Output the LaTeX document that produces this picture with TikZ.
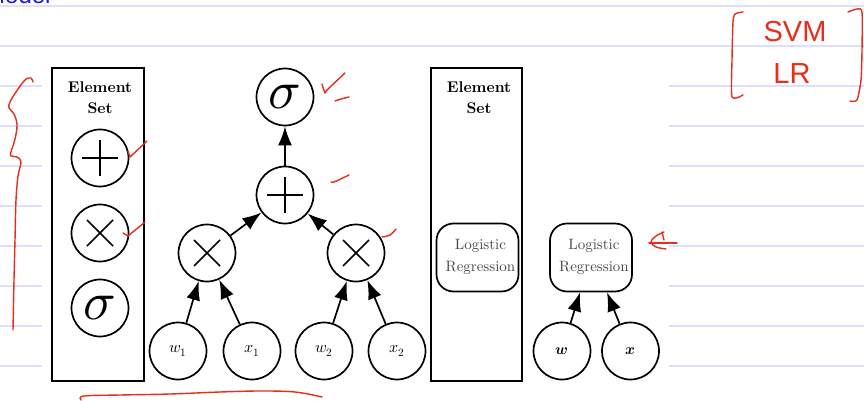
\documentclass[tikz,border=0pt]{standalone}
\usepackage{unicode-math}
\setmainfont{lmroman10}[Extension=.otf, UprightFont=*-regular, BoldFont=*-bold, ItalicFont=*-italic, BoldItalicFont=*-bolditalic]
\setmathfont{latinmodern-math.otf}
\usetikzlibrary{arrows.meta}
\newfontfamily\handfont{Liberation Sans}
\newfontfamily\headfont{Liberation Sans}
\definecolor{inkred}{RGB}{232,46,26}
\definecolor{rulecol}{RGB}{221,223,252}
\definecolor{headblue}{RGB}{24,24,232}
\definecolor{lrgray}{RGB}{72,72,72}
\begin{document}
\begin{tikzpicture}[x=1pt,y=-1pt,
  rule/.style={draw=rulecol, line width=1.4pt},
  ink/.style={draw=inkred, line width=1.4pt, line cap=round, line join=round},
  handtext/.style={text=inkred, font=\handfont\fontsize{29}{29}\selectfont, inner sep=0pt},
  circ/.style={circle, draw, line width=1.7pt, minimum size=57pt, inner sep=0pt},
  opplus/.style={circ, path picture={
      \draw[line width=1.7pt]
        ([xshift=-18pt]path picture bounding box.center) -- ([xshift=18pt]path picture bounding box.center)
        ([yshift=-18pt]path picture bounding box.center) -- ([yshift=18pt]path picture bounding box.center);}},
  optimes/.style={circ, path picture={
      \draw[line width=1.7pt]
        ([shift={(-13pt,-13pt)}]path picture bounding box.center) -- ([shift={(13pt,13pt)}]path picture bounding box.center)
        ([shift={(-13pt,13pt)}]path picture bounding box.center) -- ([shift={(13pt,-13pt)}]path picture bounding box.center);}},
  opsigma/.style={circ, font=\fontsize{54}{54}\selectfont},
  leaf/.style={circ, font=\fontsize{16}{16}\selectfont},
  setbox/.style={draw, line width=1.7pt, inner sep=0pt},
  settitle/.style={font=\fontsize{15.5}{21}\selectfont\bfseries, align=center, inner sep=0pt},
  lrbox/.style={draw, line width=1.7pt, rounded corners=17pt, minimum width=82pt, minimum height=68pt, inner sep=0pt},
  lrtext/.style={align=center, text=lrgray, font=\fontsize{15}{22}\selectfont, inner sep=0pt},
  arr/.style={line width=1.7pt, -{Latex[length=19pt,width=14pt]}}
]
\path[use as bounding box] (0,0) rectangle (864,401);
\clip (0,0) rectangle (864,401);
\fill[white] (0,0) rectangle (864,401);

% ruled notebook lines
\draw[rule] (0,6) -- (864,6) (0,46) -- (864,46);
\foreach \yy in {86,126,...,366}{
  \draw[rule] (0,\yy) -- (42,\yy) (669,\yy) -- (864,\yy);
}

% heading, running off the top edge
\node[anchor=base west, inner sep=0pt, text=headblue, font=\headfont\fontsize{24}{24}\selectfont] (head) at (-15,4) {Model};

% left element set
\node[setbox, minimum width=92pt, minimum height=313pt] (set1) at (98,224.5) {};
\node[settitle] (title1) at (100,98) {Element\\Set};
\node[opplus] (eplus) at (100,158) {};
\node[optimes] (etimes) at (100,233) {};
\node[opsigma] (esig) at (100,308) {$\sigma$};

% computation graph
\node[opsigma] (sig) at (285,97) {$\sigma$};
\node[opplus] (plus) at (285,195) {};
\node[optimes] (m1) at (207,253) {};
\node[optimes] (m2) at (356,253) {};
\node[leaf] (w1) at (178,351) {$w_1$};
\node[leaf] (x1) at (252,351) {$x_1$};
\node[leaf] (w2) at (324,351) {$w_2$};
\node[leaf] (x2) at (397,351) {$x_2$};
\draw[arr] (plus) -- (sig);
\draw[arr] (m1) -- (plus);
\draw[arr] (m2) -- (plus);
\draw[arr] (w1) -- (m1);
\draw[arr] (x1) -- (m1);
\draw[arr] (w2) -- (m2);
\draw[arr] (x2) -- (m2);

% right element set
\node[setbox, minimum width=91pt, minimum height=313pt] (set2) at (476.5,224.5) {};
\node[settitle] (title2) at (479,98) {Element\\Set};
\node[lrbox] (lr1) at (477.5,257.5) {};
\node[lrtext] (lrt1) at (480.5,257) {Logistic\\Regression};

% compact model
\node[lrbox] (lr2) at (591,257.5) {};
\node[lrtext] (lrt2) at (594,257) {Logistic\\Regression};
\node[leaf, font=\fontsize{15}{15}\selectfont] (w) at (562,351) {$\symbfit{w}$};
\node[leaf, font=\fontsize{15}{15}\selectfont] (x) at (630.5,351) {$\symbfit{x}$};
\draw[arr] (w) -- ([xshift=-11pt]lr2.south);
\draw[arr] (x) -- ([xshift=16pt]lr2.south);

% pen annotations
\draw[ink] plot[smooth, tension=0.6] coordinates {(33,82) (31,78) (25,80) (16,92) (10,102) (9,108) (14,114) (17,125) (15,139) (11,152) (11,156) (17,157) (21,162) (18,176) (16,200) (15,240) (14,280) (13,330)};
\draw[ink] (128,151) -- (130,157) -- (147,141);
\draw[ink] (123,233) -- (128,236) -- (145,222);
\draw[ink] plot[smooth, tension=0.5] coordinates {(322,84) (325,93) (327,90) (345,73)};
\draw[ink] plot[smooth, tension=0.5] coordinates {(335,101) (341,99) (349,97)};
\draw[ink] plot[smooth, tension=0.5] coordinates {(331,182) (334,182) (349,175)};
\draw[ink] plot[smooth, tension=0.6] coordinates {(382,237) (390,235) (396,229)};
\draw[ink] plot[smooth, tension=0.6] coordinates {(81,400) (84,396) (120,395) (170,394) (220,392) (260,391) (295,392) (322,397)};
\draw[ink] (649,243) -- (677,243);
\draw[ink] plot[smooth, tension=0.6] coordinates {(664,232) (656,236) (651,242) (656,247) (666,249)};
\draw[ink] (662,232) -- (664,240);
\draw[ink] plot[smooth, tension=0.4] coordinates {(743,12) (735,14) (733,22) (732,60) (732,97) (743,95)};
\draw[ink] plot[smooth, tension=0.4] coordinates {(848,12) (857,9) (862,12) (862,50) (861,80) (857,100) (850,101)};
\node[handtext] (svm) at (795,32) {SVM};
\node[handtext] (lr) at (792,74) {LR};
\end{tikzpicture}
\end{document}
